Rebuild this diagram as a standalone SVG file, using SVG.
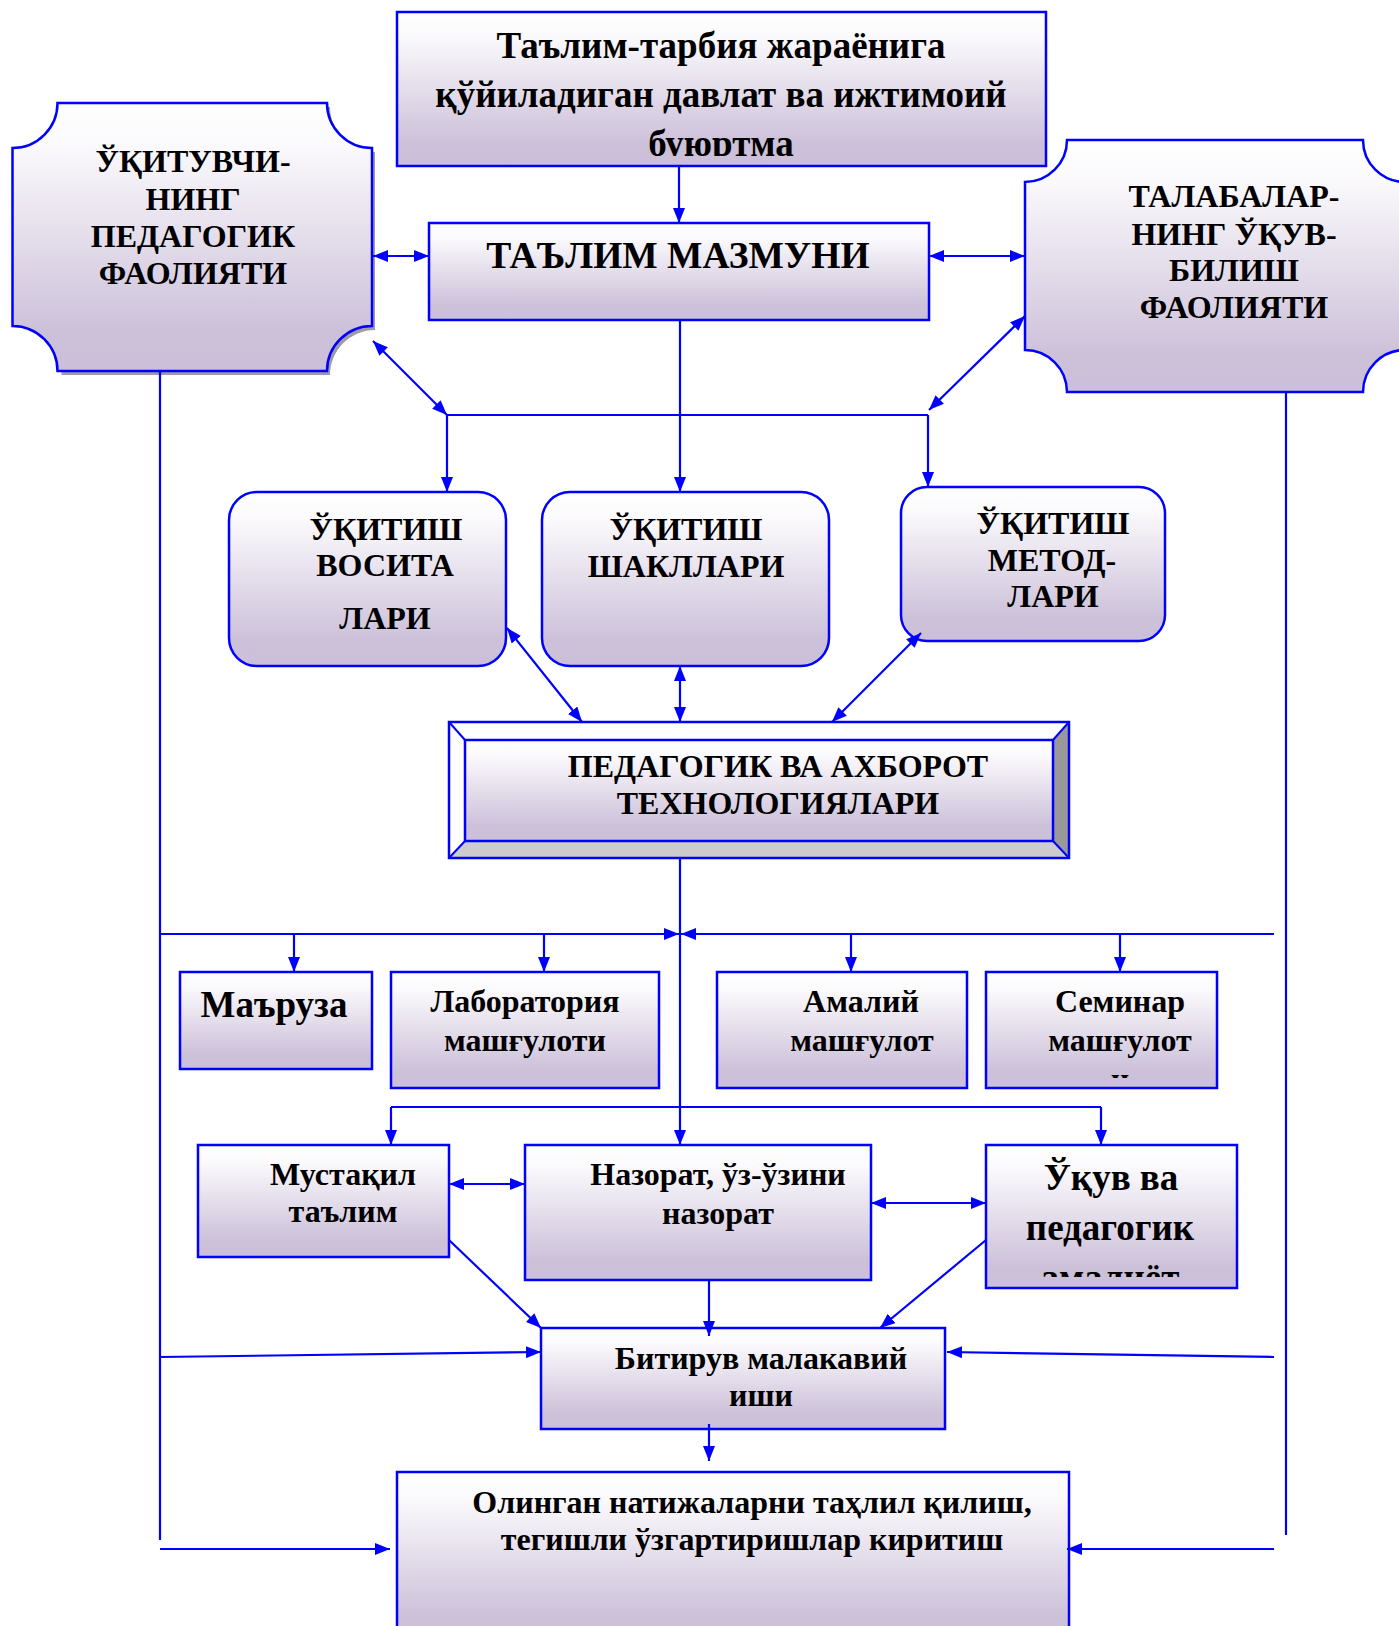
<svg xmlns="http://www.w3.org/2000/svg" width="1399" height="1626" viewBox="0 0 1399 1626">
<defs>
<linearGradient id="g" x1="0" y1="0" x2="0" y2="1">
<stop offset="0" stop-color="#ffffff"/>
<stop offset="0.15" stop-color="#fbfafc"/>
<stop offset="0.85" stop-color="#cdc1da"/>
<stop offset="1" stop-color="#cbbfd9"/>
</linearGradient>
<marker id="ah" viewBox="0 0 15 12" refX="15" refY="6" markerWidth="15" markerHeight="12" markerUnits="userSpaceOnUse" orient="auto-start-reverse">
<path d="M0,0 L15,6 L0,12 Z" fill="#0000ff"/>
</marker>
<clipPath id="c1"><rect x="397" y="12" width="649" height="144"/></clipPath>
<clipPath id="c2"><rect x="986" y="972" width="231" height="106"/></clipPath>
<clipPath id="c3"><rect x="986" y="1145" width="251" height="132"/></clipPath>
</defs>
<style>
.n{fill:url(#g);stroke:#0000ff;stroke-width:2.5}
.t{font-family:"Liberation Serif","Times New Roman",serif;font-weight:bold;fill:#000;text-anchor:middle}
.c line{stroke:#0000ff;stroke-width:2.2;fill:none}
.a{marker-end:url(#ah)}
.b{marker-start:url(#ah);marker-end:url(#ah)}
</style>
<rect width="1399" height="1626" fill="#ffffff"/>

<g id="n-top">
<rect class="n" x="397" y="12" width="649" height="154"/>
<g clip-path="url(#c1)" class="t" font-size="37">
<text x="721" y="58">Таълим-тарбия жараёнига</text>
<text x="721" y="107">қўйиладиган давлат ва ижтимоий</text>
<text x="721" y="156">буюртма</text>
</g>
</g>

<g id="n-teacher">
<path d="M61.5,107 L330,107 A45,45 0 0 0 375,152 L375,330 A45,45 0 0 0 330,375 L61.5,375 Z" fill="#a09aa8" stroke="none"/>
<path class="n" d="M57.5,103 L327,103 A45,45 0 0 0 372,148 L372,326 A45,45 0 0 0 327,371 L57.5,371 A45,45 0 0 0 12.5,326 L12.5,148 A45,45 0 0 0 57.5,103 Z"/>
<g class="t" font-size="32">
<text x="193" y="172">ЎҚИТУВЧИ-</text>
<text x="193" y="210">НИНГ</text>
<text x="193" y="247">ПЕДАГОГИК</text>
<text x="193" y="284">ФАОЛИЯТИ</text>
</g>
</g>

<g id="n-content">
<rect class="n" x="429" y="223" width="500" height="97"/>
<text class="t" font-size="37.5" x="678" y="268">ТАЪЛИМ МАЗМУНИ</text>
</g>

<g id="n-student">
<path class="n" d="M1067,140 L1363,140 A42,42 0 0 0 1405,182 L1405,350 A42,42 0 0 0 1363,392 L1067,392 A42,42 0 0 0 1025,350 L1025,182 A42,42 0 0 0 1067,140 Z"/>
<g class="t" font-size="32">
<text x="1234" y="207">ТАЛАБАЛАР-</text>
<text x="1234" y="245">НИНГ ЎҚУВ-</text>
<text x="1234" y="281">БИЛИШ</text>
<text x="1234" y="318">ФАОЛИЯТИ</text>
</g>
</g>

<g id="n-means">
<rect class="n" x="229" y="492" width="277" height="174" rx="28"/>
<g class="t" font-size="32">
<text x="386" y="540">ЎҚИТИШ</text>
<text x="385" y="576">ВОСИТА</text>
<text x="385" y="629">ЛАРИ</text>
</g>
</g>

<g id="n-forms">
<rect class="n" x="542" y="492" width="287" height="174" rx="28"/>
<g class="t" font-size="32">
<text x="686" y="540">ЎҚИТИШ</text>
<text x="686" y="577">ШАКЛЛАРИ</text>
</g>
</g>

<g id="n-methods">
<rect class="n" x="901" y="487" width="264" height="154" rx="26"/>
<g class="t" font-size="32">
<text x="1053" y="534">ЎҚИТИШ</text>
<text x="1052" y="571">МЕТОД-</text>
<text x="1053" y="607">ЛАРИ</text>
</g>
</g>

<g id="n-tech">
<rect x="449" y="722" width="620" height="136" fill="#ffffff" stroke="none"/>
<polygon points="1053,740 1069,722 1069,858 1053,841" fill="#999999"/>
<polygon points="465,841 1053,841 1069,858 449,858" fill="#cccccc"/>
<line x1="449" y1="722" x2="465" y2="740" stroke="#0000ff" stroke-width="2"/>
<line x1="1069" y1="722" x2="1053" y2="740" stroke="#0000ff" stroke-width="2"/>
<line x1="449" y1="858" x2="465" y2="841" stroke="#0000ff" stroke-width="2"/>
<line x1="1069" y1="858" x2="1053" y2="841" stroke="#0000ff" stroke-width="2"/>
<rect x="449" y="722" width="620" height="136" fill="none" stroke="#0000ff" stroke-width="2.5"/>
<rect class="n" x="465" y="740" width="588" height="101"/>
<g class="t" font-size="32">
<text x="778" y="777">ПЕДАГОГИК ВА АХБОРОТ</text>
<text x="778" y="814">ТЕХНОЛОГИЯЛАРИ</text>
</g>
</g>

<g id="n-lecture">
<rect class="n" x="180" y="972" width="192" height="97"/>
<text class="t" font-size="37" x="274" y="1017">Маъруза</text>
</g>

<g id="n-lab">
<rect class="n" x="391" y="972" width="268" height="116"/>
<g class="t" font-size="32">
<text x="525" y="1012">Лаборатория</text>
<text x="525" y="1051">машғулоти</text>
</g>
</g>

<g id="n-practice">
<rect class="n" x="717" y="972" width="250" height="116"/>
<g class="t" font-size="32">
<text x="861" y="1012">Амалий</text>
<text x="862" y="1051">машғулот</text>
</g>
</g>

<g id="n-seminar">
<rect class="n" x="986" y="972" width="231" height="116"/>
<g class="t" font-size="32" clip-path="url(#c2)">
<text x="1120" y="1012">Семинар</text>
<text x="1120" y="1051">машғулот</text>
<text x="1120" y="1090">и</text>
</g>
</g>

<g id="n-self">
<rect class="n" x="198" y="1145" width="251" height="112"/>
<g class="t" font-size="32">
<text x="343" y="1185">Мустақил</text>
<text x="343" y="1222">таълим</text>
</g>
</g>

<g id="n-control">
<rect class="n" x="525" y="1145" width="346" height="135"/>
<g class="t" font-size="32">
<text x="718" y="1185">Назорат, ўз-ўзини</text>
<text x="718" y="1224">назорат</text>
</g>
</g>

<g id="n-practice2">
<rect class="n" x="986" y="1145" width="251" height="143"/>
<g class="t" font-size="37" clip-path="url(#c3)">
<text x="1111" y="1190">Ўқув ва</text>
<text x="1110" y="1240">педагогик</text>
<text x="1110" y="1290">амалиёт</text>
</g>
</g>

<g id="n-thesis">
<rect class="n" x="541" y="1328" width="404" height="101"/>
<g class="t" font-size="32">
<text x="761" y="1369">Битирув малакавий</text>
<text x="761" y="1406">иши</text>
</g>
</g>

<g id="n-analysis">
<rect class="n" x="397" y="1472" width="672" height="170"/>
<g class="t" font-size="32">
<text x="752" y="1513">Олинган натижаларни таҳлил қилиш,</text>
<text x="752" y="1550">тегишли ўзгартиришлар киритиш</text>
</g>
</g>

<g id="connectors" class="c">
<line class="a" x1="679" y1="166" x2="679" y2="223"/>
<line class="b" x1="373" y1="256" x2="429" y2="256"/>
<line class="b" x1="929" y1="256" x2="1025" y2="256"/>
<line class="b" x1="373" y1="341" x2="447" y2="415"/>
<line class="b" x1="1025" y1="316" x2="929" y2="410"/>
<line x1="447" y1="415" x2="928" y2="415"/>
<line class="a" x1="447" y1="415" x2="447" y2="492"/>
<line class="a" x1="680" y1="320" x2="680" y2="492"/>
<line class="a" x1="928" y1="415" x2="928" y2="487"/>
<line class="b" x1="507" y1="628" x2="582" y2="722"/>
<line class="b" x1="680" y1="666" x2="680" y2="722"/>
<line class="b" x1="921" y1="633" x2="832" y2="722"/>
<line class="a" x1="680" y1="858" x2="680" y2="1145"/>
<line class="a" x1="160" y1="934" x2="679" y2="934"/>
<line class="a" x1="1274" y1="934" x2="681" y2="934"/>
<line class="a" x1="294" y1="934" x2="294" y2="972"/>
<line class="a" x1="544" y1="934" x2="544" y2="972"/>
<line class="a" x1="851" y1="934" x2="851" y2="972"/>
<line class="a" x1="1120" y1="934" x2="1120" y2="972"/>
<line x1="391" y1="1107" x2="1101" y2="1107"/>
<line class="a" x1="391" y1="1107" x2="391" y2="1145"/>
<line class="a" x1="1101" y1="1107" x2="1101" y2="1145"/>
<line class="b" x1="449" y1="1184" x2="525" y2="1184"/>
<line class="b" x1="871" y1="1203" x2="986" y2="1203"/>
<line class="a" x1="709" y1="1280" x2="709" y2="1336"/>
<line class="a" x1="449" y1="1240" x2="541" y2="1328"/>
<line class="a" x1="986" y1="1240" x2="880" y2="1328"/>
<line class="a" x1="160" y1="1357" x2="541" y2="1352"/>
<line class="a" x1="1274" y1="1357" x2="947" y2="1352"/>
<line class="a" x1="709" y1="1424" x2="709" y2="1461"/>
<line class="a" x1="160" y1="1549" x2="390" y2="1549"/>
<line class="a" x1="1274" y1="1549" x2="1067" y2="1549"/>
<line x1="160" y1="371" x2="160" y2="1540"/>
<line x1="1286" y1="392" x2="1286" y2="1535"/>
</g>
</svg>
